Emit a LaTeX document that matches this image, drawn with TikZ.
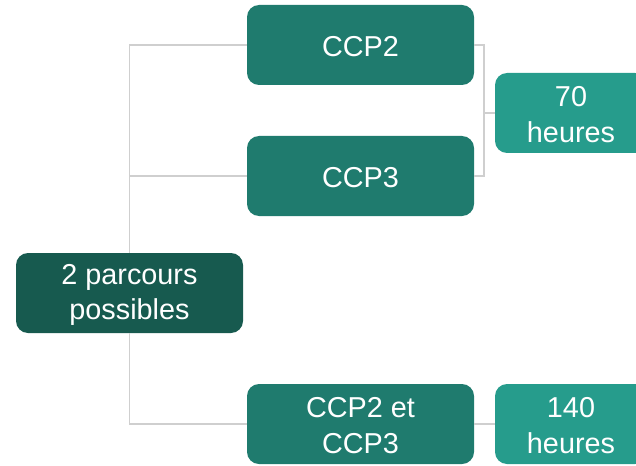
\documentclass[tikz,border=0pt]{standalone}
\usepackage{fontspec}
\setmainfont{Liberation Sans}
\definecolor{rootc}{HTML}{175A4F}
\definecolor{ccpc}{HTML}{1F7B6E}
\definecolor{hourc}{HTML}{269C8C}
\definecolor{linec}{HTML}{CFCFCF}
\begin{document}
\begin{tikzpicture}[x=1pt,y=-1pt,
  box/.style={rectangle, rounded corners=12pt, minimum width=227pt, minimum height=80pt,
    inner sep=0pt},
  txt/.style={inner sep=0pt, text=white, align=center, yshift=-1.7pt,
    font=\fontsize{28.8}{35.4}\selectfont},
  rootbox/.style={box, fill=rootc},
  ccpbox/.style={box, fill=ccpc},
  hourbox/.style={box, fill=hourc, minimum width=152pt},
  conn/.style={draw=linec, line width=1.5pt}]
\useasboundingbox (0,0) rectangle (636,465);
\node[rootbox, label={[txt]center:2 parcours\\possibles}] (root) at (129.5,293) {};
\node[ccpbox, label={[txt]center:CCP2}] (ccp2) at (360.5,45) {};
\node[ccpbox, label={[txt]center:CCP3}] (ccp3) at (360.5,176) {};
\node[ccpbox, label={[txt]center:CCP2 et\\CCP3}] (both) at (360.5,424) {};
\node[hourbox, label={[txt]center:70\\heures}] (h70) at (571,113) {};
\node[hourbox, label={[txt]center:140\\heures}] (h140) at (571,424) {};
\draw[conn] (root.north) |- (ccp2.west);
\draw[conn] (root.north |- ccp3.west) -- (ccp3.west);
\draw[conn] (root.south) |- (both.west);
\coordinate (br) at ([xshift=10pt]ccp2.east);
\draw[conn] (ccp2.east) -- (br) |- (ccp3.east);
\draw[conn] (br |- h70.west) -- (h70.west);
\draw[conn] (both.east) -- (h140.west);
\end{tikzpicture}
\end{document}
